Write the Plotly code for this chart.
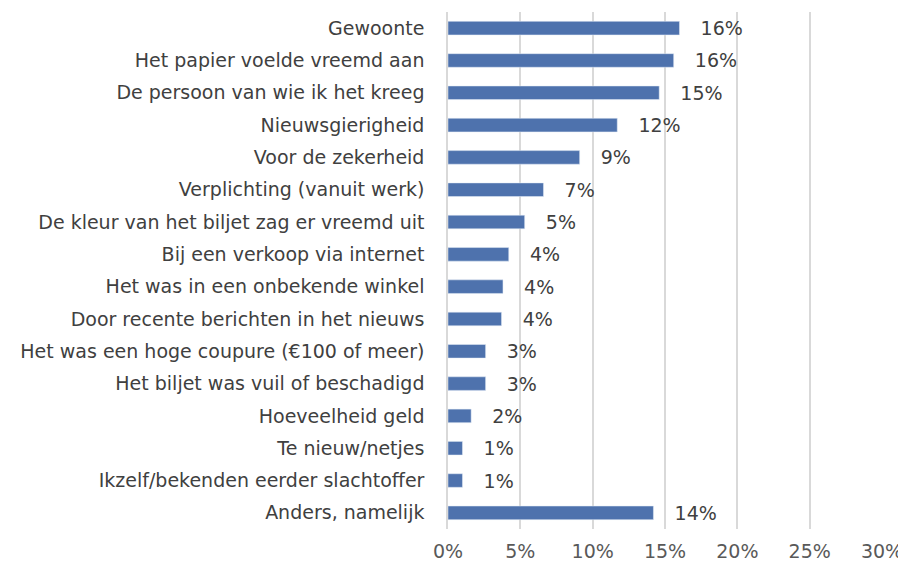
import plotly.graph_objects as go

categories = [
    "Gewoonte",
    "Het papier voelde vreemd aan",
    "De persoon van wie ik het kreeg",
    "Nieuwsgierigheid",
    "Voor de zekerheid",
    "Verplichting (vanuit werk)",
    "De kleur van het biljet zag er vreemd uit",
    "Bij een verkoop via internet",
    "Het was in een onbekende winkel",
    "Door recente berichten in het nieuws",
    "Het was een hoge coupure (€100 of meer)",
    "Het biljet was vuil of beschadigd",
    "Hoeveelheid geld",
    "Te nieuw/netjes",
    "Ikzelf/bekenden eerder slachtoffer",
    "Anders, namelijk",
]
values = [16.0, 15.6, 14.6, 11.7, 9.1, 6.6, 5.3, 4.2, 3.8, 3.7, 2.6, 2.6, 1.6, 1.0, 1.0, 14.2]
tick_vals = [0, 5, 10, 15, 20, 25, 30]
tick_labels = ["0%", "5%", "10%", "15%", "20%", "25%", "30%"]

font_family = "'DejaVu Sans', 'Open Sans', sans-serif"
fsize = 19

fig = go.Figure(
    go.Bar(
        x=values,
        y=categories,
        orientation="h",
        marker=dict(color="#4E72AD"),
        width=0.42,
        texttemplate="\u00a0\u00a0\u00a0%{x:.0f}%",
        textposition="outside",
        constraintext="none",
        textfont=dict(size=fsize, color="#404040", family=font_family),
        cliponaxis=False,
        hoverinfo="skip",
    )
)

fig.update_layout(
    width=906,
    height=568,
    margin=dict(l=440, r=32, t=4, b=47, autoexpand=False),
    paper_bgcolor="white",
    plot_bgcolor="white",
    showlegend=False,
    font=dict(family=font_family, size=fsize, color="#595959"),
    uniformtext=dict(mode=False),
    xaxis=dict(
        range=[0, 30],
        tickmode="array",
        tickvals=tick_vals,
        ticktext=tick_labels,
        showgrid=True,
        gridcolor="#D9D9D9",
        gridwidth=1.5,
        zeroline=False,
        showline=False,
        automargin=False,
        ticklabelstandoff=9,
        tickfont=dict(size=fsize, color="#595959"),
        fixedrange=True,
    ),
    yaxis=dict(
        categoryorder="array",
        categoryarray=categories[::-1],
        showgrid=False,
        showline=True,
        linecolor="#D9D9D9",
        linewidth=1.5,
        ticks="",
        automargin=False,
        ticklabelstandoff=18,
        tickfont=dict(size=fsize, color="#404040"),
        fixedrange=True,
    ),
)

fig.write_html("out.html")
